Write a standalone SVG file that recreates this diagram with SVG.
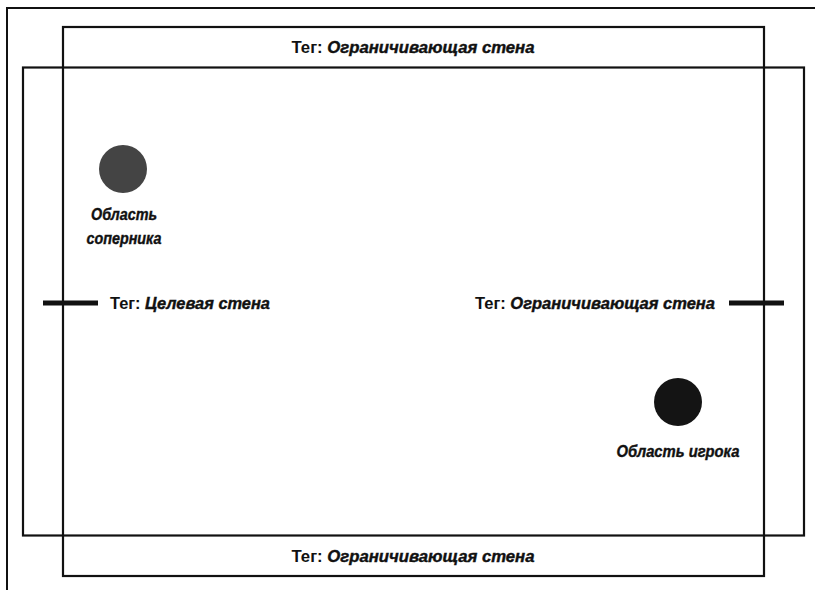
<svg xmlns="http://www.w3.org/2000/svg" width="815" height="590" viewBox="0 0 815 590">
  <style>
    .frame { fill: none; stroke: #111; stroke-width: 2; }
    .wall { fill: none; stroke: #111; stroke-width: 2.2; }
    .bar { stroke: #111; stroke-width: 5; }
    .lbl { font-family: "Liberation Sans", Arial, sans-serif; font-size: 16px; font-weight: 700; fill: #111; }
    .em { font-style: italic; stroke: #111; stroke-width: 0.4; }
  </style>
  <rect width="815" height="590" fill="#ffffff"/>

  <!-- page frame -->
  <path class="frame" d="M7,590 V8 H815"/>

  <!-- play field walls -->
  <g id="walls">
    <rect id="wall-vertical" class="wall" x="63" y="27" width="701" height="549"/>
    <rect id="wall-horizontal" class="wall" x="23" y="67.5" width="781" height="468"/>
  </g>

  <!-- goal markers -->
  <g id="connectors">
    <line class="bar" x1="43" y1="303" x2="98" y2="303"/>
    <line class="bar" x1="729" y1="303" x2="784" y2="303"/>
  </g>

  <g id="label-top">
    <text class="lbl" x="413" y="53" text-anchor="middle" textLength="243" lengthAdjust="spacingAndGlyphs">Тег: <tspan class="em">Ограничивающая стена</tspan></text>
  </g>
  <g id="label-bottom">
    <text class="lbl" x="413" y="562" text-anchor="middle" textLength="243" lengthAdjust="spacingAndGlyphs">Тег: <tspan class="em">Ограничивающая стена</tspan></text>
  </g>
  <g id="label-left">
    <text class="lbl" x="110" y="309" textLength="160" lengthAdjust="spacingAndGlyphs">Тег: <tspan class="em">Целевая стена</tspan></text>
  </g>
  <g id="label-right">
    <text class="lbl" x="475" y="309" textLength="240" lengthAdjust="spacingAndGlyphs">Тег: <tspan class="em">Ограничивающая стена</tspan></text>
  </g>

  <g id="opponent-area">
    <circle cx="123" cy="169" r="24" fill="#444444"/>
    <text class="lbl em" x="124" y="220" text-anchor="middle" textLength="66" lengthAdjust="spacingAndGlyphs">Область</text>
    <text class="lbl em" x="124" y="244" text-anchor="middle" textLength="75" lengthAdjust="spacingAndGlyphs">соперника</text>
  </g>

  <g id="player-area">
    <circle cx="678" cy="402" r="24" fill="#141414"/>
    <text class="lbl em" x="678" y="457" text-anchor="middle" textLength="123" lengthAdjust="spacingAndGlyphs">Область игрока</text>
  </g>
</svg>
